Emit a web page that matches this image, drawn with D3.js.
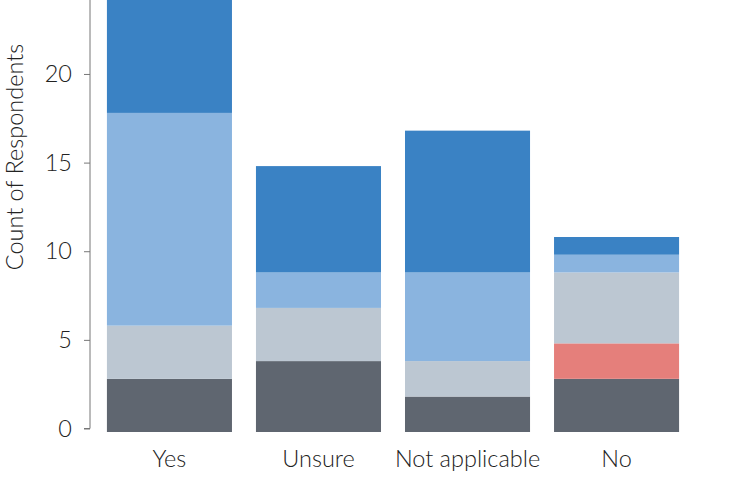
<!DOCTYPE html>
<html>
<head>
<meta charset="utf-8">
<script src="https://cdn.jsdelivr.net/npm/d3@7"></script>
<style>
  body { margin: 0; background: white; }
  text { font-family: Lato, "Open Sans", sans-serif; font-weight: 300; fill: #222; }
</style>
</head>
<body>
<div id="chart"></div>
<script>
const categories = ["Yes", "Unsure", "Not applicable", "No"];
const seriesNames = ["s1", "s2", "s3", "s4", "s5"];
const seriesColors = ["#5f6670", "#e57f7b", "#bcc7d2", "#8ab4df", "#3a82c4"];
// values per series, one per category
const s1 = [3, 4, 2, 3];
const s2 = [0, 0, 0, 2];
const s3 = [3, 3, 2, 4];
const s4 = [12, 2, 5, 1];
const s5 = [8, 6, 8, 1];
const yTicks = [0, 5, 10, 15, 20];

const w = 738;
const h = 490;

const rows = categories.map((c, i) => ({
    cat: c, s1: s1[i], s2: s2[i], s3: s3[i], s4: s4[i], s5: s5[i]
}));

const stack = d3.stack().keys(seriesNames)(rows);

const xScale = d3.scaleBand()
                 .domain(categories)
                 .range([95, 691])
                 .paddingInner(0.161)
                 .paddingOuter(0.08);

const yScale = d3.scaleLinear()
                 .domain([0, 24.37])
                 .range([432, 0]);

const svg = d3.select("#chart")
              .append("svg")
              .attr("width", w)
              .attr("height", h);

svg.selectAll("g.layer")
   .data(stack)
   .enter()
   .append("g")
   .attr("class", "layer")
   .attr("fill", (d, i) => seriesColors[i])
   .selectAll("rect")
   .data(d => d)
   .enter()
   .append("rect")
   .attr("x", d => xScale(d.data.cat))
   .attr("y", d => yScale(d[1]))
   .attr("width", xScale.bandwidth())
   .attr("height", d => yScale(d[0]) - yScale(d[1]));

// axis sits slightly above the bar baseline, as in the original
const yAxisScale = yScale.copy().range([428.5, -3.5]);
const yAxis = d3.axisLeft(yAxisScale).tickValues(yTicks).tickSize(6).tickPadding(12);

const gy = svg.append("g")
   .attr("transform", "translate(90,0)")
   .call(yAxis);
gy.select(".domain").attr("stroke", "#777").attr("d", "M-6,428.5H0V0");
gy.selectAll(".tick line").attr("stroke", "#777");
gy.selectAll(".tick text").style("font-size", "23.5px").attr("fill", "#222");

const xAxis = d3.axisBottom(xScale).tickSize(0).tickPadding(18);
const gx = svg.append("g")
   .attr("transform", "translate(0,432)")
   .call(xAxis);
gx.select(".domain").remove();
gx.selectAll(".tick text").style("font-size", "23.5px").attr("fill", "#222");

svg.append("text")
   .attr("transform", "translate(23,157) rotate(-90)")
   .attr("text-anchor", "middle")
   .style("font-size", "23.5px")
   .text("Count of Respondents");
</script>
</body>
</html>
